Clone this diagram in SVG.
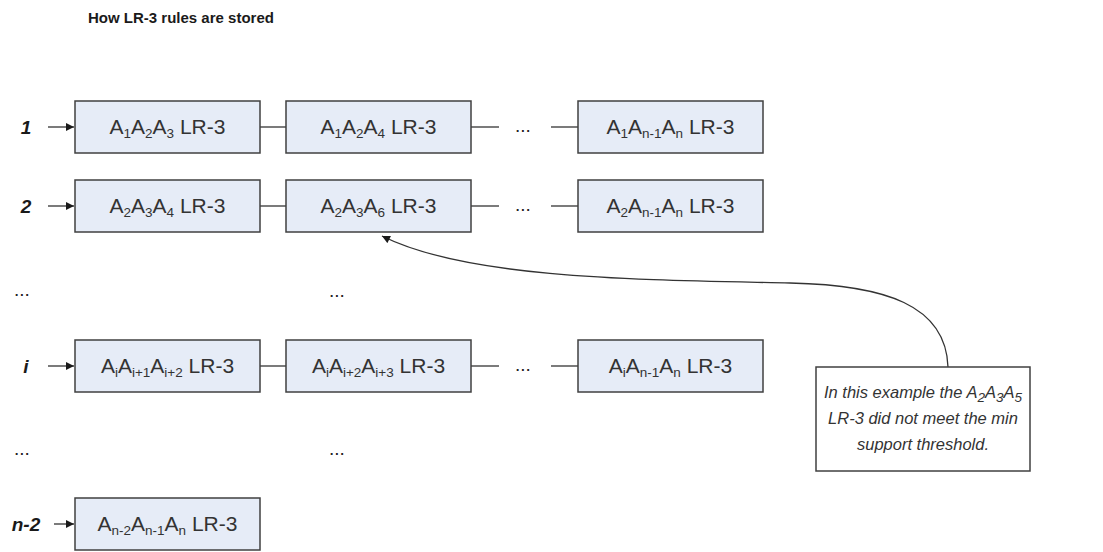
<svg xmlns="http://www.w3.org/2000/svg" width="1103" height="552" viewBox="0 0 1103 552">
  <defs>
    <style>
      text { font-family: "Liberation Sans", Arial, sans-serif; fill: #1a1a1a; }
      .title { font-size: 15px; font-weight: bold; }
      .row { font-size: 19px; font-weight: bold; font-style: italic; text-anchor: middle; }
      .box { fill: #e6ecf7; stroke: #404040; stroke-width: 1.5; }
      .lbl { font-size: 21px; text-anchor: middle; fill: #333; }
      .sub { font-size: 13.5px; }
      .dots { font-size: 19px; fill: #222; }
      .link { stroke: #333; stroke-width: 1.3; fill: none; }
      .note { fill: #ffffff; stroke: #404040; stroke-width: 1.5; }
      .ntxt { font-size: 16.5px; font-style: italic; text-anchor: middle; fill: #333; }
    </style>
    <marker id="head" viewBox="0 0 10 10" refX="10" refY="5" markerWidth="9" markerHeight="8" markerUnits="userSpaceOnUse" orient="auto">
      <path d="M0,0 L10,5 L0,10 z" fill="#1a1a1a"/>
    </marker>
  </defs>

  <text class="title" x="88" y="23">How LR-3 rules are stored</text>

  <!-- row labels and elision marks -->
  <g id="row-labels">
    <text class="row" x="26" y="134">1</text>
    <text class="row" x="26" y="213">2</text>
    <text class="row" x="26" y="373">i</text>
    <text class="row" x="26" y="531">n-2</text>
    <text class="dots" x="14" y="296">...</text>
    <text class="dots" x="329" y="297">...</text>
    <text class="dots" x="14" y="455">...</text>
    <text class="dots" x="329" y="455">...</text>
  </g>

  <!-- connectors -->
  <g id="connectors">
    <line class="link" x1="48" y1="127" x2="74" y2="127" marker-end="url(#head)"/>
    <line class="link" x1="48" y1="206" x2="74" y2="206" marker-end="url(#head)"/>
    <line class="link" x1="48" y1="366" x2="74" y2="366" marker-end="url(#head)"/>
    <line class="link" x1="54" y1="524" x2="74" y2="524" marker-end="url(#head)"/>

    <line class="link" x1="260" y1="127" x2="286" y2="127"/>
    <line class="link" x1="471" y1="127" x2="499" y2="127"/>
    <line class="link" x1="551" y1="127" x2="578" y2="127"/>
    <line class="link" x1="260" y1="206" x2="286" y2="206"/>
    <line class="link" x1="471" y1="206" x2="499" y2="206"/>
    <line class="link" x1="551" y1="206" x2="578" y2="206"/>
    <line class="link" x1="260" y1="366" x2="286" y2="366"/>
    <line class="link" x1="471" y1="366" x2="499" y2="366"/>
    <line class="link" x1="551" y1="366" x2="578" y2="366"/>

    <text class="dots" x="515" y="132">...</text>
    <text class="dots" x="515" y="211">...</text>
    <text class="dots" x="515" y="371">...</text>

    <path class="link" d="M948,367 C946,305 885,285 790,283 C650,280 470,280 382,236" marker-end="url(#head)"/>
  </g>

  <!-- row 1 -->
  <g id="r1c1"><rect class="box" x="75" y="101" width="185" height="52"/>
    <text class="lbl" x="167.5" y="134">A<tspan class="sub" dy="4">1</tspan><tspan dy="-4">A</tspan><tspan class="sub" dy="4">2</tspan><tspan dy="-4">A</tspan><tspan class="sub" dy="4">3</tspan><tspan dy="-4"> LR-3</tspan></text></g>
  <g id="r1c2"><rect class="box" x="286" y="101" width="185" height="52"/>
    <text class="lbl" x="378.5" y="134">A<tspan class="sub" dy="4">1</tspan><tspan dy="-4">A</tspan><tspan class="sub" dy="4">2</tspan><tspan dy="-4">A</tspan><tspan class="sub" dy="4">4</tspan><tspan dy="-4"> LR-3</tspan></text></g>
  <g id="r1c3"><rect class="box" x="578" y="101" width="185" height="52"/>
    <text class="lbl" x="670.5" y="134">A<tspan class="sub" dy="4">1</tspan><tspan dy="-4">A</tspan><tspan class="sub" dy="4">n-1</tspan><tspan dy="-4">A</tspan><tspan class="sub" dy="4">n</tspan><tspan dy="-4"> LR-3</tspan></text></g>

  <!-- row 2 -->
  <g id="r2c1"><rect class="box" x="75" y="180" width="185" height="52"/>
    <text class="lbl" x="167.5" y="213">A<tspan class="sub" dy="4">2</tspan><tspan dy="-4">A</tspan><tspan class="sub" dy="4">3</tspan><tspan dy="-4">A</tspan><tspan class="sub" dy="4">4</tspan><tspan dy="-4"> LR-3</tspan></text></g>
  <g id="r2c2"><rect class="box" x="286" y="180" width="185" height="52"/>
    <text class="lbl" x="378.5" y="213">A<tspan class="sub" dy="4">2</tspan><tspan dy="-4">A</tspan><tspan class="sub" dy="4">3</tspan><tspan dy="-4">A</tspan><tspan class="sub" dy="4">6</tspan><tspan dy="-4"> LR-3</tspan></text></g>
  <g id="r2c3"><rect class="box" x="578" y="180" width="185" height="52"/>
    <text class="lbl" x="670.5" y="213">A<tspan class="sub" dy="4">2</tspan><tspan dy="-4">A</tspan><tspan class="sub" dy="4">n-1</tspan><tspan dy="-4">A</tspan><tspan class="sub" dy="4">n</tspan><tspan dy="-4"> LR-3</tspan></text></g>

  <!-- row i -->
  <g id="ric1"><rect class="box" x="75" y="340" width="185" height="52"/>
    <text class="lbl" x="167.5" y="373">A<tspan class="sub" dy="4">i</tspan><tspan dy="-4">A</tspan><tspan class="sub" dy="4">i+1</tspan><tspan dy="-4">A</tspan><tspan class="sub" dy="4">i+2</tspan><tspan dy="-4"> LR-3</tspan></text></g>
  <g id="ric2"><rect class="box" x="286" y="340" width="185" height="52"/>
    <text class="lbl" x="378.5" y="373">A<tspan class="sub" dy="4">i</tspan><tspan dy="-4">A</tspan><tspan class="sub" dy="4">i+2</tspan><tspan dy="-4">A</tspan><tspan class="sub" dy="4">i+3</tspan><tspan dy="-4"> LR-3</tspan></text></g>
  <g id="ric3"><rect class="box" x="578" y="340" width="185" height="52"/>
    <text class="lbl" x="670.5" y="373">A<tspan class="sub" dy="4">i</tspan><tspan dy="-4">A</tspan><tspan class="sub" dy="4">n-1</tspan><tspan dy="-4">A</tspan><tspan class="sub" dy="4">n</tspan><tspan dy="-4"> LR-3</tspan></text></g>

  <!-- row n-2 -->
  <g id="rn2c1"><rect class="box" x="75" y="498" width="185" height="52"/>
    <text class="lbl" x="167.5" y="531">A<tspan class="sub" dy="4">n-2</tspan><tspan dy="-4">A</tspan><tspan class="sub" dy="4">n-1</tspan><tspan dy="-4">A</tspan><tspan class="sub" dy="4">n</tspan><tspan dy="-4"> LR-3</tspan></text></g>

  <!-- note -->
  <g id="note"><rect class="note" x="816" y="367" width="214" height="104"/>
    <text class="ntxt" x="923" y="398">In this example the A<tspan class="sub" dy="4">2</tspan><tspan dy="-4">A</tspan><tspan class="sub" dy="4">3</tspan><tspan dy="-4">A</tspan><tspan class="sub" dy="4">5</tspan></text>
    <text class="ntxt" x="923" y="424">LR-3 did not meet the min</text>
    <text class="ntxt" x="923" y="450">support threshold.</text>
  </g>
</svg>
